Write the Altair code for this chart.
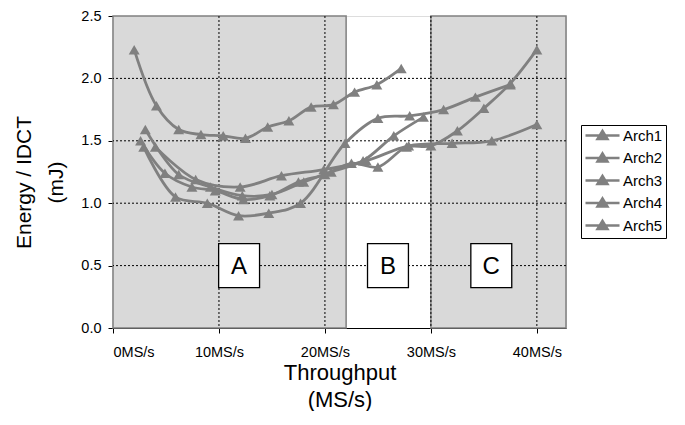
import altair as alt
import pandas as pd

# ---------------- data ----------------
series_names = ["Arch1", "Arch2", "Arch3", "Arch4", "Arch5"]

arch1_x = [2.0, 4.1, 6.2, 8.3, 10.4, 12.5, 14.6, 16.6, 18.7, 20.8, 22.8, 24.9, 27.2]
arch1_y = [2.23, 1.78, 1.59, 1.55, 1.54, 1.52, 1.61, 1.66, 1.77, 1.79, 1.89, 1.95, 2.08]

arch2_x = [2.9, 5.9, 8.9, 11.85, 14.7, 17.7, 21.9, 25.0, 28.0, 31.2, 34.2, 37.5]
arch2_y = [1.45, 1.05, 1.00, 0.90, 0.92, 1.00, 1.48, 1.68, 1.70, 1.75, 1.85, 1.95]

arch3_x = [4.0, 7.8, 12.0, 15.9, 19.9, 23.9, 27.9, 32.0, 35.75, 40.0]
arch3_y = [1.45, 1.19, 1.13, 1.22, 1.27, 1.34, 1.46, 1.48, 1.50, 1.63]

arch4_x = [2.6, 4.9, 7.45, 9.65, 12.3, 14.8, 17.5, 20.0, 22.5, 25.0, 27.7, 30.0, 32.5, 35.0, 37.5, 40.0]
arch4_y = [1.50, 1.24, 1.13, 1.10, 1.03, 1.06, 1.17, 1.23, 1.32, 1.29, 1.45, 1.46, 1.58, 1.76, 1.96, 2.23]

arch5_x = [3.05, 6.2, 9.2, 12.2, 15.0, 18.0, 20.6, 23.6, 26.5, 29.3]
arch5_y = [1.59, 1.23, 1.13, 1.06, 1.07, 1.17, 1.25, 1.34, 1.54, 1.69]

region_start = [0, 30]
region_end = [22, 42.75]
region_bottom = [0.0, 0.0]
region_top = [2.5, 2.5]

letter_labels = ["A", "B", "C"]
letter_x = [11.9, 25.95, 35.7]
letter_y = [0.5, 0.5, 0.5]

x_ticks = [0, 10, 20, 30, 40]
y_ticks = [0.0, 0.5, 1.0, 1.5, 2.0, 2.5]
x_grid = [10, 20, 30, 40]
y_grid = [0.5, 1.0, 1.5, 2.0]

# ---------------- tables ----------------
rows = []
for name, xs_, ys_ in zip(series_names,
                          [arch1_x, arch2_x, arch3_x, arch4_x, arch5_x],
                          [arch1_y, arch2_y, arch3_y, arch4_y, arch5_y]):
    for xv, yv in zip(xs_, ys_):
        rows.append({"series": name, "x": xv, "y": yv})
df = pd.DataFrame(rows)

reg_df = pd.DataFrame({"x": region_start, "x1": region_end, "y": region_bottom, "y1": region_top})
let_df = pd.DataFrame({"label": letter_labels, "x": letter_x, "y": letter_y})
xg_df = pd.DataFrame({"x": x_grid})
yg_df = pd.DataFrame({"y": y_grid})

FONT = "Liberation Sans"
GREY = "#808080"

xs = alt.Scale(domain=[0, 42.75], nice=False, zero=False)
ys = alt.Scale(domain=[0, 2.5], nice=False)

x_axis = alt.Axis(values=x_ticks, labelExpr="datum.value + 'MS/s'", grid=False,
                  domainColor="black", tickColor="black", tickSize=5, domainWidth=1.2,
                  labelFontSize=14.5, labelPadding=12, labelColor="black", labelFont=FONT,
                  titleFontSize=22, titleFontWeight="normal",
                  titleFont=FONT, titleColor="black", titleLineHeight=27,
                  titleBaseline="middle", titleY=44)
y_axis = alt.Axis(values=y_ticks, format=".1f", grid=False,
                  domainColor="black", tickColor="black", tickSize=5, domainWidth=1.2,
                  labelFontSize=14.5, labelPadding=7, labelColor="black", labelFont=FONT,
                  titleFontSize=21, titleFontWeight="normal",
                  titleFont=FONT, titleColor="black", titleLineHeight=32,
                  titleBaseline="middle", titleX=-89, titleY=166)

X_TITLE = ["Throughput", "(MS/s)"]
Y_TITLE = ["Energy / IDCT", "(mJ)"]


def X(field="x"):
    return alt.X(f"{field}:Q", scale=xs, axis=x_axis, title=X_TITLE)


def Y(field="y"):
    return alt.Y(f"{field}:Q", scale=ys, axis=y_axis, title=Y_TITLE)


regions = alt.Chart(reg_df).mark_rect(fill="#d9d9d9", stroke=GREY, strokeWidth=1.5).encode(
    x=X(), x2="x1:Q", y=Y(), y2="y1:Q",
)

hgrid = alt.Chart(yg_df).mark_rule(color="black", strokeDash=[2, 2], strokeWidth=1).encode(y=Y())
vgrid = alt.Chart(xg_df).mark_rule(color="black", strokeDash=[2, 2], strokeWidth=1).encode(x=X())

lines = alt.Chart(df).mark_line(interpolate="catmull-rom", color=GREY, strokeWidth=2.8).encode(
    x=X(), y=Y(), detail="series:N",
)

legend = alt.Legend(title=None, orient="none", legendX=468, legendY=109,
                    symbolType="M-1,0H4.67M1.83,-0.75L2.66,0.6L1,0.6Z", symbolSize=144,
                    symbolStrokeWidth=2.5, symbolStrokeColor=GREY, symbolFillColor=GREY,
                    labelFontSize=15, labelFont=FONT, labelColor="black",
                    strokeColor="black", fillColor="white", padding=3, rowPadding=3.5,
                    labelOffset=24)

points = alt.Chart(df).mark_point(shape="triangle-up", filled=True, size=120, opacity=1).encode(
    x=X(), y=Y(),
    color=alt.Color("series:N", scale=alt.Scale(domain=series_names, range=[GREY] * 5), legend=legend),
)

boxes = alt.Chart(let_df).mark_point(shape="M-0.93,-1H0.93V1H-0.93Z", size=1936, filled=True,
                                     fill="white", stroke="black", strokeWidth=1.3, opacity=1).encode(
    x=X(), y=Y(),
)
letters = alt.Chart(let_df).mark_text(fontSize=24, font=FONT, color="black", baseline="middle", dy=1).encode(
    x=X(), y=Y(), text="label:N",
)

chart = alt.layer(regions, hgrid, vgrid, lines, points, boxes, letters).properties(
    width=453, height=312,
    padding={"left": 105, "top": 8, "right": 108, "bottom": 83},
    autosize=alt.AutoSizeParams(type="none"),
).configure_view(stroke=GREY, strokeWidth=2).configure(background="white")

chart.save("out.html", embed_options={"renderer": "svg", "actions": False})
